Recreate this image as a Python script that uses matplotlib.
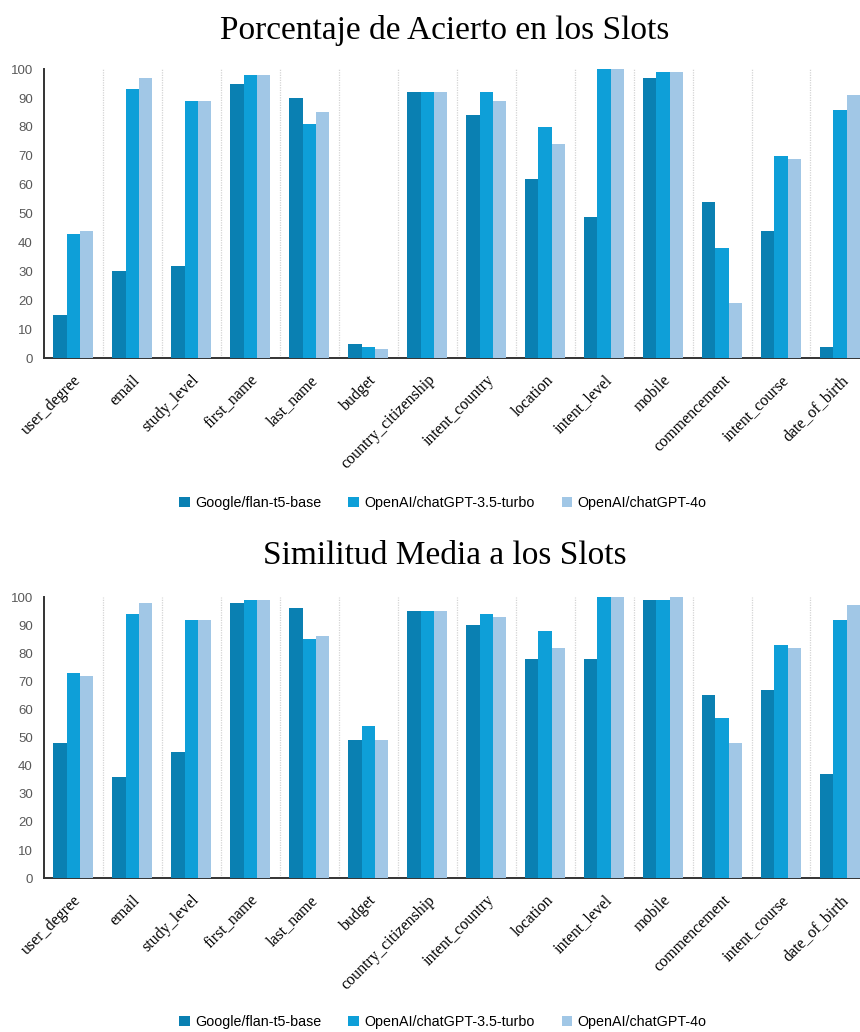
import numpy as np
import matplotlib
matplotlib.use("Agg")
import matplotlib.pyplot as plt
from matplotlib.patches import Patch

slots = ["user_degree", "email", "study_level", "first_name", "last_name", "budget",
         "country_citizenship", "intent_country", "location", "intent_level", "mobile",
         "commencement", "intent_course", "date_of_birth"]
models = ["Google/flan-t5-base", "OpenAI/chatGPT-3.5-turbo", "OpenAI/chatGPT-4o"]

# porcentaje de acierto por slot
acierto_flan = [15, 30, 32, 95, 90, 5, 92, 84, 62, 49, 97, 54, 44, 4]
acierto_gpt35 = [43, 93, 89, 98, 81, 4, 92, 92, 80, 100, 99, 38, 70, 86]
acierto_gpt4o = [44, 97, 89, 98, 85, 3, 92, 89, 74, 100, 99, 19, 69, 91]

# similitud media por slot
similitud_flan = [48, 36, 45, 98, 96, 49, 95, 90, 78, 78, 99, 65, 67, 37]
similitud_gpt35 = [73, 94, 92, 99, 85, 54, 95, 94, 88, 100, 99, 57, 83, 92]
similitud_gpt4o = [72, 98, 92, 99, 86, 49, 95, 93, 82, 100, 100, 48, 82, 97]

colors = ["#0a80b2", "#0e9fd8", "#a1c7e6"]
serif = ["Liberation Serif", "DejaVu Serif"]
sans = ["Liberation Sans", "DejaVu Sans"]

fig = plt.figure(figsize=(8.6, 10.32), dpi=100)


def draw_panel(rect, title, series, title_y, legend_y):
    ax = fig.add_axes(rect)
    x = np.arange(len(slots))
    w = 0.225
    for i, vals in enumerate(series):
        ax.bar(x + (i - 1) * w, vals, width=w, color=colors[i], linewidth=0, zorder=3)

    # separadores punteados entre grupos
    for b in np.arange(0.5, len(slots), 1):
        ax.axvline(b, color="#d4d4d4", linestyle=(0, (1, 1)), linewidth=0.9, zorder=1)

    ax.set_xlim(-0.5, len(slots) - 0.5)
    ax.set_ylim(0, 100)
    ax.set_yticks(range(0, 101, 10))
    ax.tick_params(axis="y", length=0, labelsize=9.5, labelcolor="#595959", pad=8)
    for lab in ax.get_yticklabels():
        lab.set_family(sans)
    ax.set_xticks(x)
    ax.set_xticklabels(slots, rotation=45, ha="right", rotation_mode="anchor",
                       family=serif, fontsize=11.5)
    ax.tick_params(axis="x", length=0, pad=10)

    for s in ["top", "right"]:
        ax.spines[s].set_visible(False)
    for s in ["left", "bottom"]:
        ax.spines[s].set_color("#333333")
        ax.spines[s].set_linewidth(1.4)

    fig.text(0.517, title_y, title, ha="center", va="center",
             family=serif, fontsize=24)

    handles = [Patch(facecolor=c, edgecolor="none") for c in colors]
    fig.legend(handles, models, loc="center", bbox_to_anchor=(0.515, legend_y),
               ncol=3, frameon=False, prop={"family": sans, "size": 10.3},
               handlelength=0.75, handleheight=0.75, handletextpad=0.35,
               columnspacing=1.9)
    return ax


draw_panel([0.051, 0.653, 0.960, 0.280], "Porcentaje de Acierto en los Slots",
           [acierto_flan, acierto_gpt35, acierto_gpt4o], 1 - 30 / 1032, 1 - 503 / 1032)
draw_panel([0.051, 0.149, 0.960, 0.2725], "Similitud Media a los Slots",
           [similitud_flan, similitud_gpt35, similitud_gpt4o], 1 - 556 / 1032, 1 - 1022 / 1032)

fig.savefig("out.png", dpi=100)
